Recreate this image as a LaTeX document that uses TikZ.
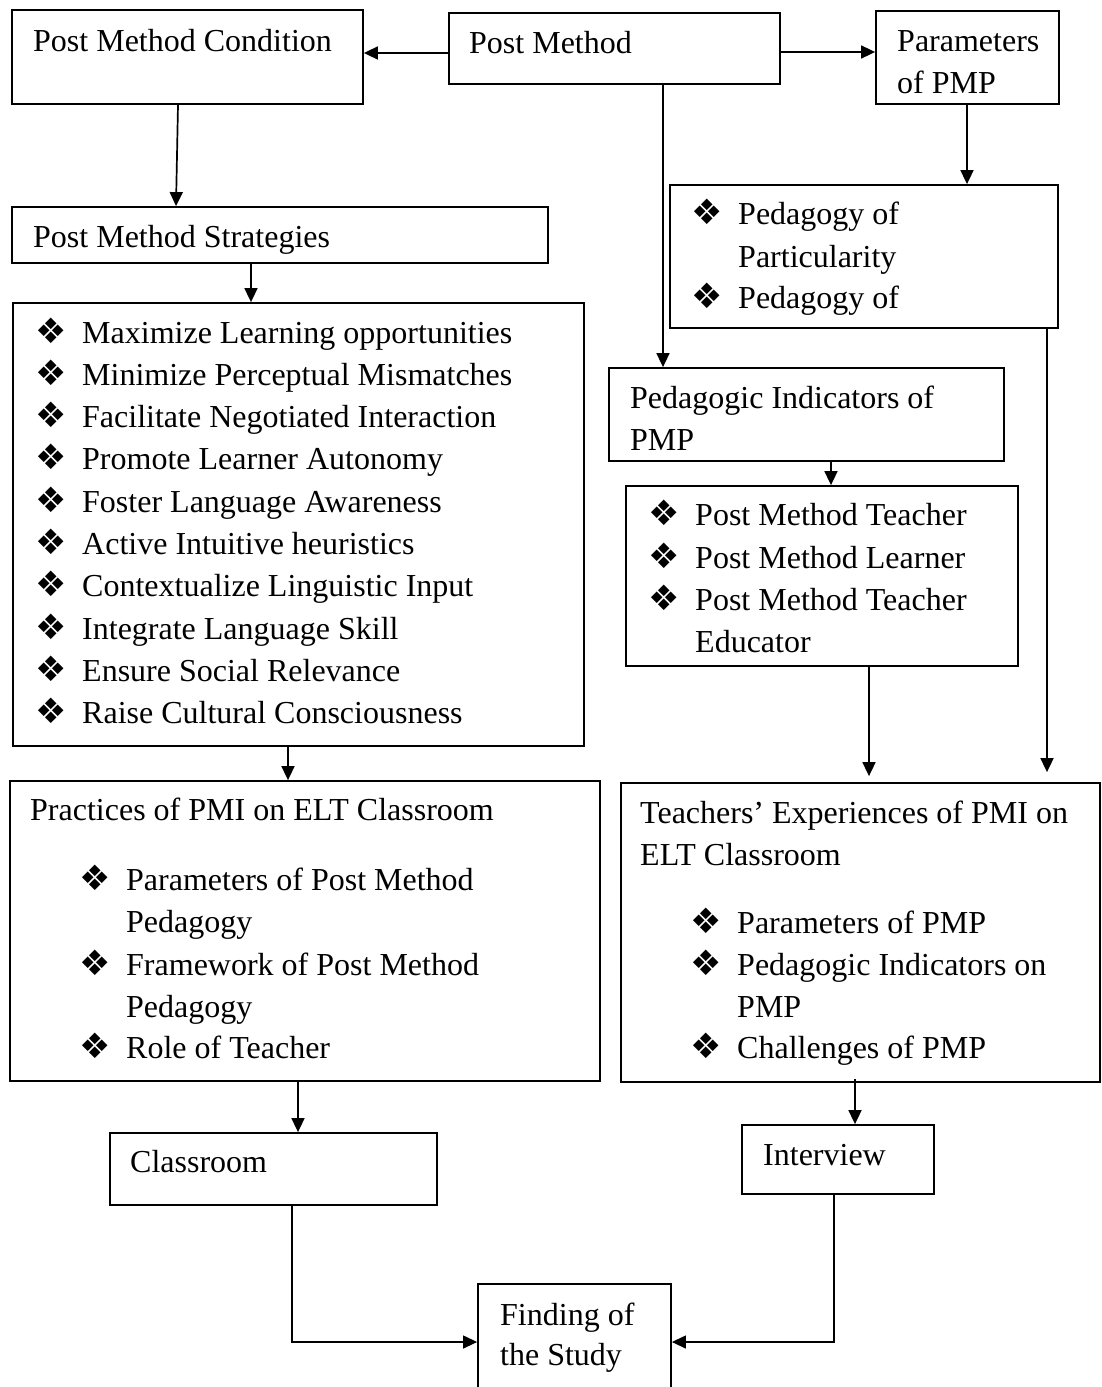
\documentclass[tikz,border=0pt]{standalone}
\usepackage{fontspec}
\setmainfont{Liberation Serif}
\newfontfamily\dingfont{DejaVu Sans}
\usetikzlibrary{arrows.meta,fit,calc}
\begin{document}
\begin{tikzpicture}[x=1pt,y=-1pt,
  box/.style={draw, line width=1.8pt, inner sep=0pt},
  txt/.style={anchor=base west, inner sep=0pt, font=\fontsize{32}{42}\selectfont},
  bul/.style={anchor=base west, inner sep=0pt, font=\dingfont\fontsize{35}{40}\selectfont},
  arr/.style={line width=1.7pt, -{Triangle[length=14pt,width=13pt]}},
  thinarr/.style={line width=1.3pt, -{Triangle[length=14pt,width=13pt]}}]
\useasboundingbox (0,0) rectangle (1101,1387);

% helper x positions
\coordinate (x178) at (178,0);
\coordinate (x176) at (176,0);
\coordinate (x251) at (251,0);
\coordinate (x288) at (288,0);
\coordinate (x298) at (298,0);
\coordinate (x292) at (292,0);
\coordinate (x663) at (663,0);
\coordinate (x967) at (967,0);
\coordinate (x831) at (831,0);
\coordinate (x869) at (869,0);
\coordinate (x1047) at (1047,0);
\coordinate (x855) at (855,0);
\coordinate (x834) at (834,0);
\coordinate (y53) at (0,53);
\coordinate (y52) at (0,52);

% boxes
\node[box, fit={(12,10) (363,104)}] (A) {};
\node[box, fit={(449,13) (780,84)}] (B) {};
\node[box, fit={(876,11) (1059,104)}] (C) {};
\node[box, fit={(12,207) (548,263)}] (D) {};
\node[box, fit={(13,303) (584,746)}] (E) {};
\node[box, fit={(670,185) (1058,328)}] (F) {};
\node[box, fit={(609,368) (1004,461)}] (G) {};
\node[box, fit={(626,486) (1018,666)}] (H) {};
\node[box, fit={(10,781) (600,1081)}] (I) {};
\node[box, fit={(621,783) (1100,1082)}] (J) {};
\node[box, fit={(110,1133) (437,1205)}] (K) {};
\node[box, fit={(742,1125) (934,1194)}] (L) {};
\node[box, fit={(478,1284) (671,1400)}] (M) {};

% texts
\node[txt] (At) at (33,51) {Post Method Condition};
\node[txt] (Bt) at (469,53) {Post Method};
\node[txt] (Ct1) at (897,51) {Parameters};
\node[txt] (Ct2) at (897,93) {of PMP};
\node[txt] (Dt) at (33,247) {Post Method Strategies};

\foreach \t [count=\i] in {Maximize Learning opportunities, Minimize Perceptual Mismatches,
  Facilitate Negotiated Interaction, Promote Learner Autonomy, Foster Language Awareness,
  Active Intuitive heuristics, Contextualize Linguistic Input, Integrate Language Skill,
  Ensure Social Relevance, Raise Cultural Consciousness} {
  \node[bul] (Eb\i) at (35,{343+42.3*(\i-1)}) {❖};
  \node[txt] (Et\i) at (82,{343+42.3*(\i-1)}) {\t};
}

\node[bul] (Fb1) at (691,224) {❖};
\node[txt] (Ft1) at (738,224) {Pedagogy of};
\node[txt] (Ft2) at (738,267) {Particularity};
\node[bul] (Fb3) at (691,308) {❖};
\node[txt] (Ft3) at (738,308) {Pedagogy of};

\node[txt] (Gt1) at (630,408) {Pedagogic Indicators of};
\node[txt] (Gt2) at (630,450) {PMP};

\node[bul] (Hb1) at (648,525) {❖};
\node[txt] (Ht1) at (695,525) {Post Method Teacher};
\node[bul] (Hb2) at (648,568) {❖};
\node[txt] (Ht2) at (695,568) {Post Method Learner};
\node[bul] (Hb3) at (648,610) {❖};
\node[txt] (Ht3) at (695,610) {Post Method Teacher};
\node[txt] (Ht4) at (695,652) {Educator};

\node[txt] (It0) at (30,820) {Practices of PMI on ELT Classroom};
\node[bul] (Ib1) at (79,890) {❖};
\node[txt] (It1) at (126,890) {Parameters of Post Method};
\node[txt] (It2) at (126,932) {Pedagogy};
\node[bul] (Ib3) at (79,975) {❖};
\node[txt] (It3) at (126,975) {Framework of Post Method};
\node[txt] (It4) at (126,1017) {Pedagogy};
\node[bul] (Ib5) at (79,1058) {❖};
\node[txt] (It5) at (126,1058) {Role of Teacher};

\node[txt] (Jt1) at (640,823) {Teachers’ Experiences of PMI on};
\node[txt] (Jt2) at (640,865) {ELT Classroom};
\node[bul] (Jb1) at (690,933) {❖};
\node[txt] (Jt3) at (737,933) {Parameters of PMP};
\node[bul] (Jb2) at (690,975) {❖};
\node[txt] (Jt4) at (737,975) {Pedagogic Indicators on};
\node[txt] (Jt5) at (737,1017) {PMP};
\node[bul] (Jb3) at (690,1058) {❖};
\node[txt] (Jt6) at (737,1058) {Challenges of PMP};

\node[txt] (Kt) at (130,1172) {Classroom};
\node[txt] (Lt) at (763,1165) {Interview};
\node[txt] (Mt1) at (500,1325) {Finding of};
\node[txt] (Mt2) at (500,1365) {the Study};

% connectors
\draw[arr] (B.west |- y53) -- (A.east |- y53);
\draw[arr] (B.east |- y52) -- (C.west |- y52);
\draw[arr] (A.south -| x178) -- (D.north -| x176);
\draw[arr] (D.south -| x251) -- (E.north -| x251);
\draw[arr] (B.south -| x663) -- (G.north -| x663);
\draw[arr] (C.south -| x967) -- (F.north -| x967);
\draw[arr] (G.south -| x831) -- (H.north -| x831);
\draw[arr] (E.south -| x288) -- (I.north -| x288);
\draw[arr] (H.south -| x869) -- ($(J.north -| x869)+(0,-6)$);
\draw[arr] (F.south -| x1047) -- ($(J.north -| x1047)+(0,-10)$);
\draw[arr] (I.south -| x298) -- (K.north -| x298);
\draw[arr] ($(J.south -| x855)+(0,-4)$) -- (L.north -| x855);
\draw[thinarr] (K.south -| x292) |- (M.west);
\draw[thinarr] (L.south -| x834) |- (M.east);
\end{tikzpicture}
\end{document}
